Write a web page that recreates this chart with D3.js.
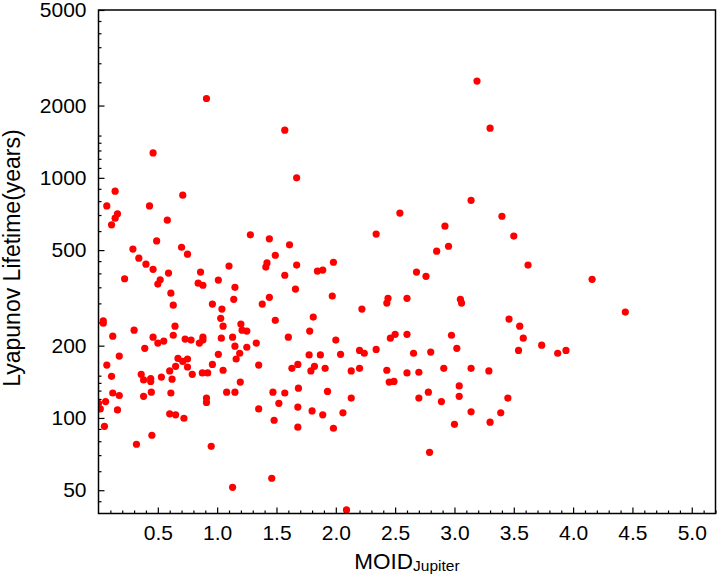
<!DOCTYPE html>
<html>
<head>
<meta charset="utf-8">
<script src="https://cdn.jsdelivr.net/npm/d3@7"></script>
<style>
body { margin: 0; background: #fff; }
text { font-family: "Liberation Sans", Arial, sans-serif; fill: #000; }
</style>
</head>
<body>
<svg id="chart" width="728" height="577"></svg>
<script>
// MOID with Jupiter (AU) and Lyapunov lifetime (years)
var moid = [
  0.91, 0.46, 1.57, 1.67, 3.19, 3.30,
  0.14, 0.71, 0.07, 0.43, 0.16, 0.14, 0.11, 0.58, 1.28, 0.49, 1.44, 1.61,
  0.29, 0.70, 0.75, 0.34, 1.49, 0.40, 0.46, 1.42, 1.41, 1.10, 1.67, 0.86,
  0.59, 0.22, 0.52, 0.50, 1.01, 0.84, 0.88, 1.57, 1.15, 1.66, 0.61, 1.14,
  1.44, 0.63, 0.96, 1.38, 1.04, 1.49, 0.04, 0.04, 1.03, 1.20, 1.05, 0.645,
  1.21, 1.25, 0.30, 0.12, 0.46, 0.63, 0.73, 0.78, 0.88, 0.88, 0.85, 1.035,
  1.13, 0.50, 0.55, 1.33, 1.60, 1.15, 1.25, 0.39,
  0.07, 0.175, 0.11, 0.12, 0.175, 0.06, 0.00, 0.015, 0.16, 0.05,
  0.36, 0.38, 0.44, 0.44, 0.53, 0.60, 0.62, 0.65, 0.67, 0.71, 0.75, 0.75,
  0.79, 0.875, 0.92, 0.96, 1.01, 1.05, 1.16, 1.19, 1.195, 1.35, 0.445, 0.38,
  0.61, 1.08, 1.15, 0.91, 0.91, 0.60, 0.65, 0.72, 1.35, 1.47, 1.57, 1.52,
  1.48, 0.45, 0.32, 0.95, 1.46, 1.13,
  3.14, 2.54, 3.40, 2.92, 2.34, 2.85, 2.95, 1.98, 1.845, 1.89, 2.68, 2.76,
  1.97, 2.43, 2.44, 2.60, 3.05, 3.06, 2.22, 1.81, 1.78, 2.00, 2.46, 2.50,
  2.60, 2.975, 3.02, 1.775, 1.87, 2.04, 2.20, 2.24, 2.34, 2.655, 2.80, 1.68,
  1.63, 1.82, 1.79, 1.91, 2.13, 2.20, 2.43, 2.45, 2.49, 2.60, 2.70, 2.91,
  3.14, 3.29, 3.04, 3.04, 1.685, 1.93, 1.68, 1.80, 1.89, 2.13, 2.06, 2.70,
  2.78, 2.89, 3.14, 3.39, 1.68, 1.98, 3.00, 3.30, 2.79, 2.09,
  3.50, 3.62, 4.16, 4.44, 3.46, 3.55, 3.58, 3.735, 3.54, 3.87, 3.94, 3.45
];
var lifetime = [
  2140, 1270, 1580, 1000, 2530, 1610,
  880, 847, 764, 764, 708, 679, 637, 666, 579, 546, 557, 526,
  505, 514, 481, 463, 476, 437, 416, 442, 425, 429, 433, 405,
  401, 380, 376, 361, 375, 364, 357, 393, 350, 344, 331, 312,
  318, 295, 298, 298, 284, 255, 254, 248, 260, 246, 241, 241,
  232, 230, 232, 219, 217, 221, 213, 211, 217, 211, 205, 215,
  217, 205, 209, 205, 217, 199, 197, 195,
  166, 181, 149, 127, 124, 117, 115, 109, 108, 92.3,
  152, 144, 146, 142, 148, 157, 145, 164, 177, 172, 176, 163,
  152, 154, 154, 167, 184, 158, 176, 186, 141, 166, 128, 123,
  127, 128, 128, 121, 116, 104, 103, 99.7, 109, 128, 127, 115,
  97.8, 84.7, 77.7, 76.2, 56.1, 51.4,
  806, 713, 692, 629, 583, 495, 519, 445, 409, 413, 405, 389,
  322, 301, 315, 315, 312, 301, 284, 263, 230, 211, 215, 223,
  223, 221, 195, 183, 183, 184, 191, 186, 193, 186, 188, 167,
  161, 164, 157, 161, 157, 161, 158, 141, 142, 154, 155, 161,
  161, 157, 136, 123, 133, 129, 111, 107, 103, 121, 105, 121,
  128, 117, 106, 105, 91.5, 90.6, 94.1, 96.0, 71.9, 41.4,
  572, 433, 378, 276, 258, 241, 215, 201, 191, 186, 191, 121
];

var xTicks = [0.5, 1.0, 1.5, 2.0, 2.5, 3.0, 3.5, 4.0, 4.5, 5.0];
var yTicks = [50, 100, 200, 500, 1000, 2000, 5000];
var yMinorTicks = [45, 60, 70, 80, 90, 110, 120, 130, 140, 150,
  250, 300, 350, 400, 450, 600, 700, 800, 900,
  1100, 1200, 1300, 1400, 1500, 2500, 3000, 3500, 4000, 4500];

var margin = {top: 10, right: 12.5, bottom: 63.5, left: 98.5};
var width = 728 - margin.left - margin.right;
var height = 577 - margin.top - margin.bottom;

var svg = d3.select("#chart");
var g = svg.append("g").attr("transform", "translate(" + margin.left + "," + margin.top + ")");

var x = d3.scaleLinear().domain([0, 5.2]).range([0, width]);
var y = d3.scaleLog().domain([40, 5000]).range([height, 0]);

// minor ticks on x every 0.1
var xMinorTicks = d3.range(1, 53).filter(function(i) { return i % 5 != 0; }).map(function(i) { return i / 10; });

var xMinor = g.append("g").attr("transform", "translate(0," + height + ")")
  .call(d3.axisBottom(x).tickValues(xMinorTicks).tickSize(-3).tickFormat(""));
var xAxis = g.append("g").attr("transform", "translate(0," + height + ")")
  .call(d3.axisBottom(x).tickValues(xTicks).tickSize(-6).tickPadding(12).tickFormat(d3.format(".1f")));

var yMinor = g.append("g")
  .call(d3.axisLeft(y).tickValues(yMinorTicks).tickSize(-3).tickFormat(""));
var yAxis = g.append("g")
  .call(d3.axisLeft(y).tickValues(yTicks).tickSize(-6).tickPadding(12).tickFormat(d3.format("d")));

[xMinor, xAxis, yMinor, yAxis].forEach(function(a) {
  a.select(".domain").remove();
  a.selectAll("line").attr("stroke", "#000").attr("stroke-width", 1.2);
  a.selectAll("text").attr("font-size", 21).attr("font-family", "Liberation Sans, Arial, sans-serif");
});

g.append("clipPath").attr("id", "plotclip")
  .append("rect").attr("width", width).attr("height", height);

var pts = moid.map(function(m, i) { return {m: m, t: lifetime[i]}; });

g.append("g").attr("clip-path", "url(#plotclip)")
  .selectAll("circle").data(pts).enter().append("circle")
  .attr("cx", function(d) { return x(d.m); })
  .attr("cy", function(d) { return y(d.t); })
  .attr("r", 3.6)
  .attr("fill", "#ff0000");

g.append("rect")
  .attr("width", width).attr("height", height)
  .attr("fill", "none").attr("stroke", "#000").attr("stroke-width", 1.5);

// axis titles
var xt = svg.append("text")
  .attr("x", margin.left + width / 2)
  .attr("y", 568.5)
  .attr("text-anchor", "middle")
  .attr("font-size", 22.5);
xt.append("tspan").text("MOID");
xt.append("tspan").attr("font-size", 15.5).attr("dy", 2).text("Jupiter");

svg.append("text")
  .attr("transform", "translate(19.5,258) rotate(-90)")
  .attr("text-anchor", "middle")
  .attr("font-size", 23)
  .text("Lyapunov Lifetime(years)");
</script>
</body>
</html>
